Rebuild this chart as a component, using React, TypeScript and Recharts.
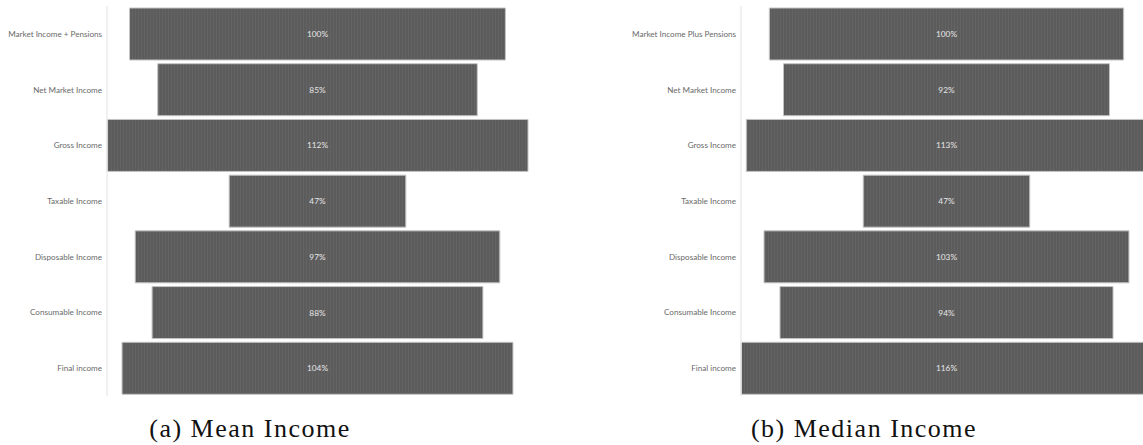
import React from "react"
import { BarChart, Bar, XAxis, YAxis, LabelList } from "recharts"

const meanCategories = [
  "Market Income + Pensions",
  "Net Market Income",
  "Gross Income",
  "Taxable Income",
  "Disposable Income",
  "Consumable Income",
  "Final income",
]
const meanValues = [100, 85, 112, 47, 97, 88, 104]

const medianCategories = [
  "Market Income Plus Pensions",
  "Net Market Income",
  "Gross Income",
  "Taxable Income",
  "Disposable Income",
  "Consumable Income",
  "Final income",
]
const medianValues = [100, 92, 113, 47, 103, 94, 116]

const captions = ["(a) Mean Income", "(b) Median Income"]

function buildRows(cats: string[], vals: number[]) {
  return cats.map((name, i) => ({
    name,
    value: vals[i],
    pct: `${vals[i]}%`,
  }))
}

// plain one-line tick, recharts would wrap the long names otherwise
function CategoryTick(props: any) {
  const { x, y, payload } = props
  return (
    <text
      x={x}
      y={y}
      dy={3}
      textAnchor="end"
      fontSize={8.1}
      fill="#6a6a6a"
      fontFamily="Lato"
    >
      {payload.value}
    </text>
  )
}

interface FunnelProps {
  id: string
  cats: string[]
  vals: number[]
  axisWidth: number
  width: number
}

function Funnel({ id, cats, vals, axisWidth, width }: FunnelProps) {
  const data = buildRows(cats, vals)
  const half = Math.max(...vals) / 2
  return (
    <BarChart
      width={width}
      height={400}
      data={data}
      layout="vertical"
      margin={{ top: 6, right: 12, bottom: 4, left: 0 }}
      barCategoryGap={2}
    >
      <defs>
        <pattern id={id} width="3" height="4" patternUnits="userSpaceOnUse">
          <rect width="3" height="4" fill="#5c5c5c" />
          <rect width="1" height="4" fill="#636363" />
        </pattern>
      </defs>
      <XAxis type="number" domain={[-half, half]} hide />
      <YAxis
        type="category"
        dataKey="name"
        width={axisWidth}
        tickSize={0}
        tickMargin={5}
        axisLine={{ stroke: "#ebebeb", strokeWidth: 1.5 }}
        tickLine={false}
        tick={<CategoryTick />}
        interval={0}
      />
      <Bar
        dataKey={(d: { value: number }) => [-d.value / 2, d.value / 2]}
        fill={`url(#${id})`}
        stroke="#c4c4c4"
        strokeWidth={1}
        isAnimationActive={false}
      >
        <LabelList
          dataKey="pct"
          position="center"
          fill="#e6e6e6"
          fontSize={8.3}
          fontFamily="Lato"
        />
      </Bar>
    </BarChart>
  )
}

export default function App() {
  return (
    <div
      style={{
        position: "absolute",
        top: 0,
        left: 0,
        width: 1143,
        height: 445,
        overflow: "hidden",
        background: "#fff",
      }}
    >
      <div style={{ position: "absolute", left: 0, top: 0 }}>
        <Funnel id="texA" cats={meanCategories} vals={meanValues} axisWidth={107} width={540} />
      </div>
      <div style={{ position: "absolute", left: 600, top: 0 }}>
        <Funnel id="texB" cats={medianCategories} vals={medianValues} axisWidth={141} width={564} />
      </div>
      {captions.map((c, i) => (
        <div
          key={c}
          style={{
            position: "absolute",
            left: i === 0 ? 50 : 664,
            width: 400,
            top: 414,
            textAlign: "center",
            fontFamily: "Liberation Serif",
            fontSize: 26,
            lineHeight: "30px",
            letterSpacing: 1.5,
            color: "#111",
          }}
        >
          {c}
        </div>
      ))}
    </div>
  )
}
